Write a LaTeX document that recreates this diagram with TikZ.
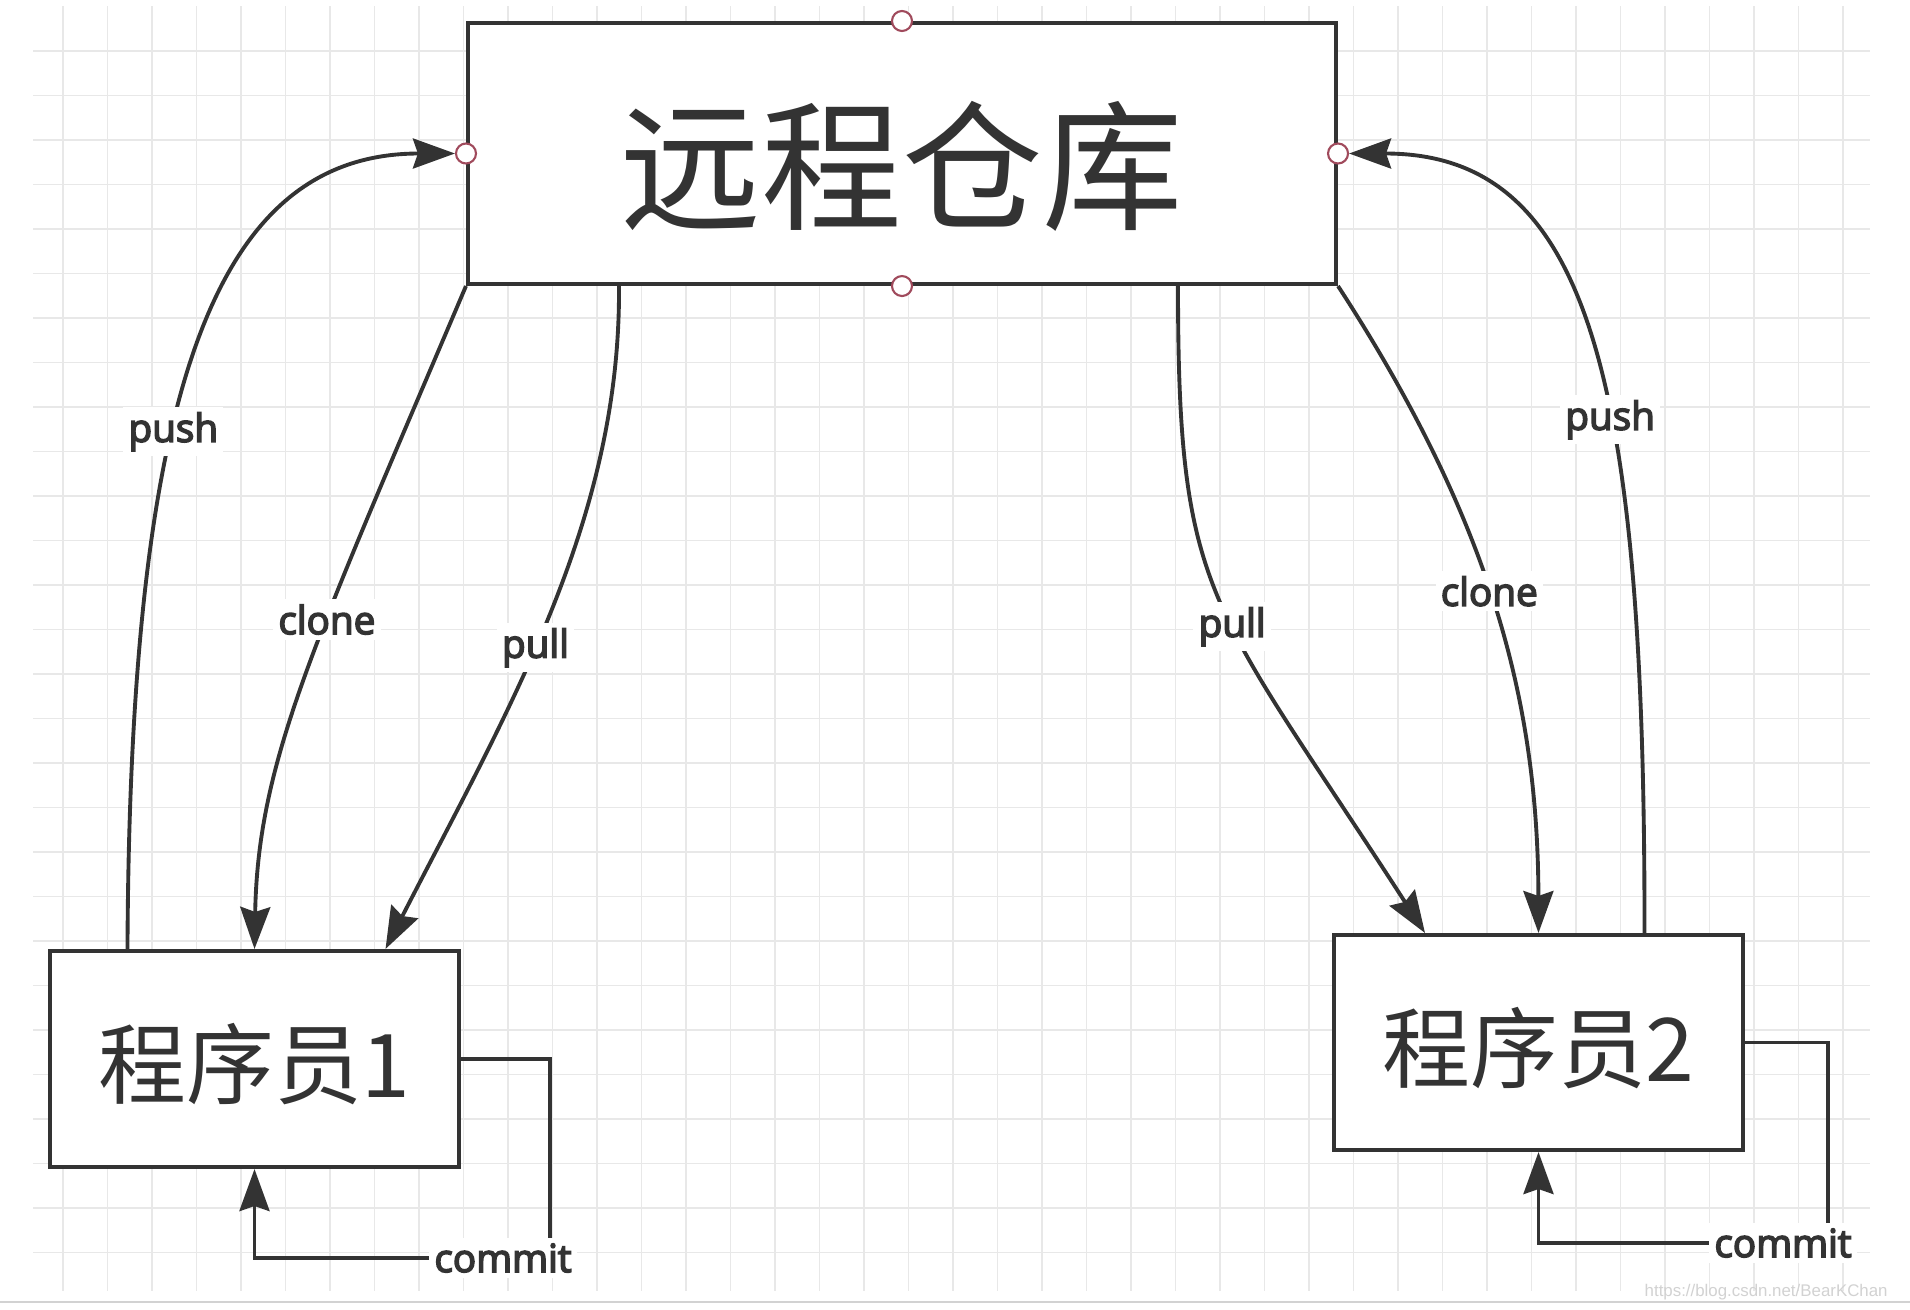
\documentclass[tikz,border=0pt]{standalone}
\usepackage{fontspec}
\setmainfont{Open Sans}[AutoFakeBold=4]
\newfontfamily\cjk{Noto Sans CJK SC}
\newfontfamily\markfont{Liberation Sans}
\usepackage{tikz}
\usetikzlibrary{arrows.meta}
\definecolor{ink}{HTML}{333333}
\definecolor{gridc}{HTML}{E8E8E8}
\definecolor{portc}{HTML}{A04A5C}
\definecolor{markc}{HTML}{D2D2D2}

\begin{document}
\begin{tikzpicture}[>={Stealth[length=0.42cm, width=0.3cm, inset=0.05cm]},
    font=\bfseries\fontsize{11}{13}\selectfont,
    box/.style={rectangle, draw=ink, line width=1.15pt, fill=white, text=ink},
    flow/.style={->, draw=ink, line width=1.1pt},
    lab/.style={fill=white, text=ink, inner sep=1.5pt},
    port/.style={circle, draw=portc, fill=white, line width=0.6pt,
                 minimum size=0.2cm, inner sep=0pt}]
  \useasboundingbox (0,0) rectangle (19.1,-13.1);
  \fill[white] (0,0) rectangle (19.1,-13.1);
  % grid
  \foreach \k in {0,...,40}
    \draw[gridc, line width=0.5pt] ({0.63+0.445*\k},-0.06) -- ({0.63+0.445*\k},-12.91);
  \foreach \k in {0,...,27}
    \draw[gridc, line width=0.5pt] (0.33,{-0.51-0.445*\k}) -- (18.7,{-0.51-0.445*\k});
  \draw[markc, line width=0.6pt] (0,-13.02) -- (19.1,-13.02);

  % boxes
  \node[box, minimum width=8.68cm, minimum height=2.61cm, text height=1.31cm, text depth=0cm,
        font=\cjk\fontsize{40}{48}\selectfont] (remote) at (9.02,-1.535) {远程仓库};
  \node[box, minimum width=4.09cm, minimum height=2.16cm, text height=0.77cm, text depth=0cm,
        font=\cjk\fontsize{25}{30}\selectfont] (dev1) at (2.545,-10.59) {程序员1};
  \node[box, minimum width=4.09cm, minimum height=2.15cm, text height=0.77cm, text depth=0cm,
        font=\cjk\fontsize{25}{30}\selectfont] (dev2) at (15.385,-10.425) {程序员2};

  % connection points
  \node[port] (pn) at (remote.north) {};
  \node[port] (ps) at (remote.south) {};
  \node[port] (pw) at (remote.west) {};
  \node[port] (pe) at (remote.east) {};

  % left side
  \draw[flow] ([xshift=0.795cm]dev1.north west) .. controls (1.30,-4.0) and (2.1,-1.535)
        .. node[lab, pos=0.4] {push} (pw);
  \draw[flow] (remote.south west) .. controls (3.14,-6.44) and (2.58,-7.6)
        .. node[lab, pos=0.4] {clone} (dev1.north);
  \draw[flow] ([xshift=1.53cm]remote.south west) .. controls (6.21,-5.2) and (5.08,-7.1)
        .. node[lab, pos=0.55] {pull} ([xshift=1.31cm]dev1.north);
  % right side
  \draw[flow] ([xshift=2.76cm]remote.south) .. controls (11.78,-6.0) and (12.1,-6.0)
        .. node[lab, pos=0.55] {pull} ([xshift=-1.135cm]dev2.north);
  \draw[flow] (remote.south east) .. controls (14.9,-5.2) and (15.38,-7.0)
        .. node[lab, pos=0.47] {clone} (dev2.north);
  \draw[flow] ([xshift=1.06cm]dev2.north) .. controls (16.45,-3.8) and (15.9,-1.535)
        .. node[lab, pos=0.4] {push} (pe);

  % commit loops
  \coordinate (c1) at (5.50,-12.58);
  \coordinate (c2) at (18.28,-12.43);
  \draw[flow] (dev1.east) -| (c1) -| (dev1.south);
  \draw[flow] (dev2.east) -| (c2) -| (dev2.south);
  \node[lab] (commit1) at ([xshift=-0.47cm]c1) {commit};
  \node[lab] (commit2) at ([xshift=-0.45cm]c2) {commit};

  \node[text=markc, font=\markfont\fontsize{4.8}{6}\selectfont, anchor=east]
    (mark) at (19.0,-12.92) {https://blog.csdn.net/BearKChan};
\end{tikzpicture}
\end{document}
